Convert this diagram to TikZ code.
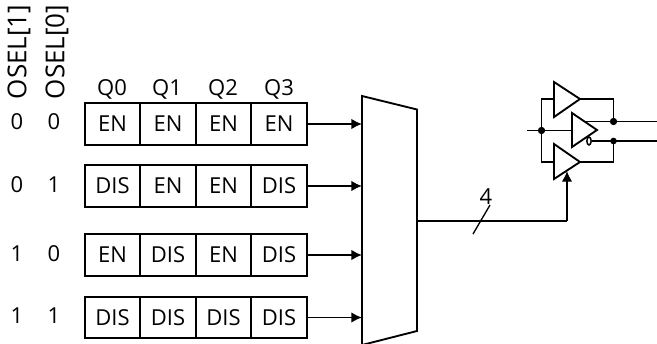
\documentclass[tikz,border=0pt]{standalone}
\usepackage{fontspec}
\setmainfont{Open Sans}
\usetikzlibrary{arrows.meta}
\tikzset{
  every node/.style={font=\fontsize{16.5pt}{18pt}\selectfont,text=black},
  cellbox/.style={draw=black,line width=1.4pt,minimum width=41.6pt,minimum height=31pt,inner sep=0pt,anchor=center},
  wire/.style={line width=1.4pt,draw=black},
  arrowwire/.style={wire,-{Latex[length=8pt,width=8pt]}},
  dotnode/.style={circle,fill=black,inner sep=0pt,minimum size=5pt},
  plain/.style={inner sep=0pt},
  biglabel/.style={inner sep=0pt,rotate=90,font=\fontsize{19.5pt}{21pt}\selectfont}
}
\begin{document}
\begin{tikzpicture}[x=0.75pt,y=-0.75pt]
\useasboundingbox (0,0) rectangle (657,343);
\clip (0,0) rectangle (657,343);
% header labels
\node[biglabel] (osa) at (19,52) {OSEL[1]};
\node[biglabel] (osb) at (57,52) {OSEL[0]};
\node[plain] (qa) at (112,89) {Q0};
\node[plain] (qb) at (167,89) {Q1};
\node[plain] (qc) at (223,89) {Q2};
\node[plain] (qd) at (279,89) {Q3};
% row labels
\node[plain] (la) at (17,122) {0}; \node[plain] (ma) at (54,122) {0};
\node[plain] (lb) at (17,185) {0}; \node[plain] (mb) at (54,185) {1};
\node[plain] (lc) at (17,254) {1}; \node[plain] (mc) at (54,254) {0};
\node[plain] (ld) at (17,316) {1}; \node[plain] (md) at (54,316) {1};
% cells
\node[cellbox] (a0) at (112.5,124) {EN};
\node[cellbox] (a1) at (168,124) {EN};
\node[cellbox] (a2) at (223.5,124) {EN};
\node[cellbox] (a3) at (279,124) {EN};
\node[cellbox] (b0) at (112.5,186) {DIS};
\node[cellbox] (b1) at (168,186) {EN};
\node[cellbox] (b2) at (223.5,186) {EN};
\node[cellbox] (b3) at (279,186) {DIS};
\node[cellbox] (c0) at (112.5,255) {EN};
\node[cellbox] (c1) at (168,255) {DIS};
\node[cellbox] (c2) at (223.5,255) {EN};
\node[cellbox] (c3) at (279,255) {DIS};
\node[cellbox] (d0) at (112.5,317.5) {DIS};
\node[cellbox] (d1) at (168,317.5) {DIS};
\node[cellbox] (d2) at (223.5,317.5) {DIS};
\node[cellbox] (d3) at (279,317.5) {DIS};
% mux
\coordinate (ma1) at (362,124);
\coordinate (ma2) at (362,186);
\coordinate (ma3) at (362,255);
\coordinate (ma4) at (362,317.5);
\coordinate (mout) at (417,221);
\draw[wire] (362,96) -- (417,109.5) -- (417,331) -- (362,345) -- cycle;
\draw[arrowwire] (a3.east) -- (ma1);
\draw[arrowwire] (b3.east) -- (ma2);
\draw[arrowwire] (c3.east) -- (ma3);
\draw[arrowwire] (d3.east) -- (ma4);
% output bus
\coordinate (bufen) at (567,171);
\draw[wire] (mout) -- (567,221) coordinate (bend);
\draw[arrowwire] (bend) -- (bufen);
\coordinate (sa) at (473,234); \coordinate (sb) at (490,205);
\draw[line width=1pt] (sa) -- (sb);
\node[plain] (four) at (486,197) {4};
% buffers
\draw[wire] (554,82) -- (580,99) -- (554,117) -- cycle;
\draw[wire] (572,113) -- (597,130) -- (572,147) -- cycle;
\draw[wire] (554,144) -- (580,162) -- (554,179) -- cycle;
% buffer wiring
\coordinate (in) at (527,130.5);
\node[dotnode,minimum size=5.5pt] (ind) at (541.5,130.5) {};
\node[dotnode,minimum size=5.5pt] (oa) at (613.5,121.5) {};
\node[dotnode,minimum size=5pt] (ob) at (613.5,141) {};
\coordinate (outa) at (657,121.5);
\coordinate (outb) at (657,141);
\draw[wire] (in) -- (572,130.5);
\draw[wire] (554,99) -- (541.5,99) -- (541.5,162) -- (554,162);
\draw[wire] (580,99) -- (613.5,99) -- (oa.center);
\draw[wire] (586,121.5) -- (outa);
\draw[wire] (591.5,141) -- (outb);
\draw[wire] (580,162) -- (613.5,162) -- (ob.center);
\draw[line width=1.1pt,fill=white] (589,141) ellipse (1.6pt and 3pt);
\end{tikzpicture}
\end{document}
